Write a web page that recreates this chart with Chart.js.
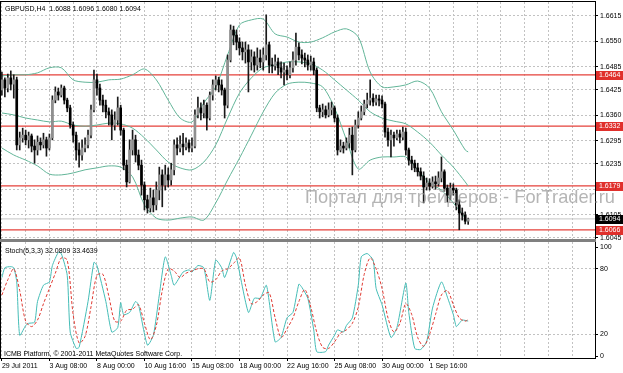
<!DOCTYPE html>
<html><head><meta charset="utf-8">
<script src="https://cdn.jsdelivr.net/npm/chart.js@4.4.1/dist/chart.umd.min.js"></script>
<style>
html,body{margin:0;padding:0;background:#fff;}
#wrap{position:relative;width:623px;height:373px;overflow:hidden;background:#fff;}
canvas{position:absolute;left:0;}
#c1{top:0;width:623px;height:241px;}
#c2{top:241px;width:623px;height:132px;}
#sep{position:absolute;left:0;top:239px;width:596px;height:3px;background:#808080;}
</style></head><body>
<div id="wrap">
<canvas id="c1" width="623" height="241"></canvas>
<canvas id="c2" width="623" height="132"></canvas>
<div id="sep"></div>
</div>
<script>
// ---------- DATA ----------
const symbolTitle = 'GBPUSD,H4  1.6088 1.6096 1.6080 1.6094';
const stochTitle = 'Stoch(5,3,3) 32.0809 33.4639';
const copyright = 'ICMB Platform, \u00a9 2001-2011 MetaQuotes Software Corp.';
const watermark = 'Портал для трейдеров - ForTrader.ru';

const xLabels = ['29 Jul 2011','3 Aug 08:00','8 Aug 00:00','10 Aug 16:00','15 Aug 08:00','18 Aug 00:00','22 Aug 16:00','25 Aug 08:00','30 Aug 00:00','1 Sep 16:00'];
const priceTicks = [1.6045,1.6105,1.6170,1.6235,1.6295,1.6360,1.6425,1.6485,1.6550,1.6615];
const stochTicks = [0,20,80,100];
const stochLevels = [20,80];
const levels = [1.6464,1.6332,1.6179,1.6066];

const opens = [
1.6425,1.6451,1.6430,1.6456,1.6440,1.6451,1.6284,1.6302,1.6309,1.6297,
1.6307,1.6281,1.6271,1.6291,1.6284,1.6297,1.6276,1.6302,1.6399,1.6420,
1.6412,1.6430,1.6399,1.6379,1.6335,1.6309,1.6271,1.6258,1.6276,1.6284,
1.6309,1.6374,1.6451,1.6430,1.6399,1.6386,1.6369,1.6361,1.6335,1.6348,
1.6379,1.6322,1.6232,1.6189,1.6271,1.6297,1.6258,1.6232,1.6181,1.6143,
1.6122,1.6148,1.6130,1.6168,1.6207,1.6181,1.6207,1.6194,1.6220,1.6284,
1.6276,1.6286,1.6279,1.6289,1.6276,1.6281,1.6361,1.6379,1.6366,1.6386,
1.6353,1.6412,1.6438,1.6451,1.6438,1.6425,1.6386,1.6502,1.6579,1.6566,
1.6548,1.6533,1.6523,1.6528,1.6497,1.6510,1.6489,1.6507,1.6497,1.6515,
1.6541,1.6489,1.6487,1.6497,1.6482,1.6471,1.6476,1.6464,1.6482,1.6502,
1.6535,1.6515,1.6507,1.6502,1.6489,1.6497,1.6476,1.6379,1.6369,1.6374,
1.6361,1.6374,1.6379,1.6353,1.6271,1.6281,1.6276,1.6289,1.6309,1.6271,
1.6335,1.6353,1.6369,1.6389,1.6399,1.6404,1.6394,1.6402,1.6399,1.6389,
1.6317,1.6297,1.6309,1.6302,1.6312,1.6304,1.6317,1.6271,1.6245,1.6237,
1.6225,1.6215,1.6204,1.6176,1.6186,1.6178,1.6189,1.6184,1.6199,1.6215,
1.6173,1.6155,1.6173,1.6168,1.6130,1.6109,1.6104,1.6088];
const highs = [
1.6471,1.6456,1.6466,1.6474,1.6464,1.6458,1.6317,1.6327,1.6322,1.6317,
1.6312,1.6297,1.6307,1.6302,1.6314,1.6304,1.6312,1.6410,1.6433,1.6430,
1.6438,1.6435,1.6404,1.6386,1.6343,1.6317,1.6289,1.6297,1.6302,1.6322,
1.6386,1.6476,1.6466,1.6440,1.6412,1.6399,1.6379,1.6374,1.6369,1.6407,
1.6386,1.6327,1.6245,1.6297,1.6322,1.6309,1.6271,1.6245,1.6189,1.6155,
1.6173,1.6168,1.6189,1.6227,1.6220,1.6232,1.6225,1.6237,1.6297,1.6302,
1.6307,1.6314,1.6302,1.6297,1.6302,1.6374,1.6407,1.6392,1.6399,1.6392,
1.6420,1.6451,1.6461,1.6458,1.6451,1.6430,1.6515,1.6592,1.6589,1.6579,
1.6559,1.6548,1.6548,1.6541,1.6528,1.6523,1.6533,1.6528,1.6533,1.6618,
1.6548,1.6507,1.6515,1.6507,1.6497,1.6494,1.6487,1.6497,1.6523,1.6571,
1.6546,1.6528,1.6520,1.6515,1.6512,1.6507,1.6482,1.6386,1.6389,1.6384,
1.6392,1.6394,1.6384,1.6361,1.6297,1.6291,1.6302,1.6327,1.6330,1.6348,
1.6369,1.6384,1.6399,1.6417,1.6451,1.6415,1.6412,1.6412,1.6410,1.6394,
1.6327,1.6322,1.6317,1.6322,1.6322,1.6330,1.6327,1.6276,1.6255,1.6245,
1.6237,1.6225,1.6215,1.6199,1.6197,1.6202,1.6204,1.6215,1.6253,1.6220,
1.6181,1.6186,1.6184,1.6173,1.6143,1.6122,1.6112,1.6096];
const lows = [
1.6412,1.6407,1.6420,1.6425,1.6404,1.6271,1.6271,1.6291,1.6284,1.6276,
1.6266,1.6237,1.6258,1.6271,1.6276,1.6255,1.6271,1.6297,1.6392,1.6399,
1.6407,1.6389,1.6369,1.6327,1.6291,1.6245,1.6227,1.6245,1.6266,1.6276,
1.6302,1.6369,1.6412,1.6386,1.6369,1.6353,1.6335,1.6297,1.6322,1.6335,
1.6309,1.6220,1.6176,1.6186,1.6258,1.6240,1.6220,1.6155,1.6117,1.6109,
1.6112,1.6112,1.6117,1.6143,1.6125,1.6168,1.6176,1.6181,1.6207,1.6258,
1.6266,1.6258,1.6271,1.6266,1.6266,1.6276,1.6353,1.6348,1.6353,1.6322,
1.6348,1.6399,1.6425,1.6420,1.6412,1.6353,1.6379,1.6497,1.6541,1.6528,
1.6515,1.6502,1.6494,1.6420,1.6476,1.6471,1.6476,1.6482,1.6476,1.6502,
1.6469,1.6469,1.6476,1.6464,1.6456,1.6438,1.6451,1.6456,1.6471,1.6489,
1.6502,1.6492,1.6484,1.6476,1.6476,1.6464,1.6369,1.6353,1.6356,1.6353,
1.6356,1.6361,1.6343,1.6258,1.6266,1.6263,1.6271,1.6276,1.6207,1.6266,
1.6327,1.6348,1.6361,1.6379,1.6386,1.6384,1.6386,1.6384,1.6379,1.6304,
1.6281,1.6253,1.6281,1.6297,1.6289,1.6297,1.6258,1.6232,1.6220,1.6215,
1.6204,1.6194,1.6135,1.6168,1.6168,1.6173,1.6170,1.6178,1.6189,1.6165,
1.6137,1.6143,1.6155,1.6117,1.6066,1.6091,1.6081,1.6080];
const closes = [
1.6451,1.6430,1.6456,1.6440,1.6451,1.6284,1.6302,1.6309,1.6297,1.6307,
1.6281,1.6271,1.6291,1.6284,1.6297,1.6276,1.6302,1.6399,1.6420,1.6412,
1.6430,1.6399,1.6379,1.6335,1.6309,1.6271,1.6258,1.6276,1.6284,1.6309,
1.6374,1.6451,1.6430,1.6399,1.6386,1.6369,1.6361,1.6335,1.6348,1.6379,
1.6322,1.6232,1.6189,1.6271,1.6297,1.6258,1.6232,1.6181,1.6143,1.6122,
1.6148,1.6130,1.6168,1.6207,1.6181,1.6207,1.6194,1.6220,1.6284,1.6276,
1.6286,1.6279,1.6289,1.6276,1.6281,1.6361,1.6379,1.6366,1.6386,1.6353,
1.6412,1.6438,1.6451,1.6438,1.6425,1.6386,1.6502,1.6579,1.6566,1.6548,
1.6533,1.6523,1.6528,1.6497,1.6510,1.6489,1.6507,1.6497,1.6515,1.6541,
1.6489,1.6487,1.6497,1.6482,1.6471,1.6476,1.6464,1.6482,1.6502,1.6535,
1.6515,1.6507,1.6502,1.6489,1.6497,1.6476,1.6379,1.6369,1.6374,1.6361,
1.6374,1.6379,1.6353,1.6271,1.6281,1.6276,1.6289,1.6309,1.6271,1.6335,
1.6353,1.6369,1.6389,1.6399,1.6404,1.6394,1.6402,1.6399,1.6389,1.6317,
1.6297,1.6309,1.6302,1.6312,1.6304,1.6317,1.6271,1.6245,1.6237,1.6225,
1.6215,1.6204,1.6176,1.6186,1.6178,1.6189,1.6184,1.6199,1.6215,1.6173,
1.6155,1.6173,1.6168,1.6130,1.6109,1.6104,1.6088,1.6094];

// Bollinger bands, read every 4th bar
const bandBars = [0,4,8,12,16,20,24,28,32,36,40,44,48,52,56,60,64,68,72,76,80,84,88,92,96,100,104,108,112,116,120,124,128,132,136,140,144,148,152,156,157];
const bandUpper = [
1.6461,1.6464,1.6464,1.6469,1.6482,1.6482,1.6451,1.6445,1.6445,1.6451,
1.6453,1.6464,1.6479,1.6451,1.6399,1.6353,1.6343,1.6392,1.6433,1.6515,
1.6592,1.6605,1.6607,1.6569,1.6561,1.6548,1.6548,1.6559,1.6574,1.6582,
1.6561,1.6471,1.6433,1.6433,1.6438,1.6448,1.6430,1.6369,1.6322,1.6271,
1.6266];
const bandMiddle = [
1.6366,1.6361,1.6353,1.6348,1.6343,1.6345,1.6335,1.6332,1.6335,1.6340,
1.6338,1.6327,1.6302,1.6271,1.6240,1.6225,1.6220,1.6240,1.6284,1.6353,
1.6417,1.6456,1.6482,1.6489,1.6497,1.6497,1.6492,1.6476,1.6451,1.6425,
1.6399,1.6369,1.6353,1.6345,1.6338,1.6317,1.6291,1.6258,1.6227,1.6189,
1.6178];
const bandLower = [
1.6276,1.6258,1.6245,1.6230,1.6209,1.6207,1.6212,1.6220,1.6225,1.6230,
1.6227,1.6202,1.6130,1.6096,1.6091,1.6096,1.6099,1.6091,1.6135,1.6194,
1.6250,1.6309,1.6369,1.6417,1.6440,1.6445,1.6443,1.6433,1.6379,1.6297,
1.6222,1.6245,1.6253,1.6253,1.6253,1.6220,1.6186,1.6168,1.6135,1.6096,
1.6086];

// Stochastic %K (main) and %D (signal)
const kBars = [0,1,3,4,5,6,8,9,11,12,14,16,17,19,20,22,23,25,26,29,31,32,35,37,39,40,41,43,45,46,49,51,53,55,57,58,61,63,64,66,68,70,72,74,75,78,79,83,85,87,89,90,92,94,96,98,100,101,103,105,106,109,110,112,113,115,116,118,120,121,123,125,126,128,131,133,136,137,139,141,143,145,148,150,152,153,154,155,157];
const kValues = [72,81,82,81,68,19,28,30,31,50,65,68,83,95,94,74,22,7,8,50,86,83,50,22,26,49,38,40,50,47,10,19,56,91,74,65,77,79,77,83,81,51,88,81,72,95,90,40,53,53,65,50,13,17,35,40,66,63,53,24,4,4,10,19,24,22,28,35,65,91,94,88,62,47,17,26,67,40,7,6,13,44,68,54,38,27,30,33,32.0809];
const dBars = [0,2,4,6,8,10,12,14,16,18,20,22,24,26,28,30,32,34,36,38,40,42,44,46,48,50,52,54,56,58,60,62,64,66,68,70,72,74,76,78,80,82,84,86,88,90,92,94,96,98,100,102,104,106,108,110,112,114,116,118,120,122,124,126,128,130,132,134,136,138,140,142,144,146,148,150,152,154,156,157];
const dValues = [56,70,80,60,32,27,33,48,62,76,90,88,38,12,18,45,74,75,55,32,32,42,43,47,30,15,28,60,80,78,72,76,78,80,80,68,70,78,80,85,90,65,48,50,56,58,35,17,25,35,50,61,45,22,8,7,13,21,24,30,45,75,90,80,62,35,22,30,48,38,17,9,20,38,56,60,47,35,32,33.4639];

// ---------- LAYOUT / STYLE ----------
const FONT = '"Liberation Sans", Arial, Helvetica, sans-serif';
Chart.defaults.font.family = FONT;
Chart.defaults.font.size = 7;
Chart.defaults.color = '#000';
const X_MIN = -0.3, X_MAX = 199.7;
const gridBars = []; for (let v = 0; v <= 192; v += 8) gridBars.push(v);
const GRID = '#c2c2c2';
const bars = closes.map((_, i) => i);
const lastClose = closes[closes.length - 1];

function stripPad(s){ s.paddingLeft = 0; s.paddingRight = 0; s.paddingTop = 0; s.paddingBottom = 0; }

const framePlugin = { id:'frame', afterDatasetsDraw(chart){
  const a = chart.chartArea, c = chart.ctx; c.save();
  c.strokeStyle = '#000'; c.lineWidth = 1;
  c.strokeRect(a.left - 0.5, a.top - 0.5, a.right - a.left + 1, a.bottom - a.top + 1);
  c.restore(); } };

const mainText = { id:'mainText', afterDraw(chart){
  const c = chart.ctx, ys = chart.scales.y, a = chart.chartArea; c.save();
  c.font = '7px ' + FONT; c.fillStyle = '#000'; c.textBaseline = 'alphabetic';
  c.fillText(symbolTitle, 5, 11);
  const tag = (v, col) => {
    const py = Math.round(ys.getPixelForValue(v));
    c.fillStyle = col; c.fillRect(a.right + 1, py - 4, 27, 9);
    c.fillStyle = '#fff'; c.textBaseline = 'middle'; c.fillText(v.toFixed(4), a.right + 4, py + 0.5);
  };
  levels.forEach(v => tag(v, '#e0302c'));
  tag(lastClose, '#000');
  c.font = '19px ' + FONT; c.fillStyle = 'rgba(150,150,150,0.7)'; c.textBaseline = 'alphabetic';
  c.fillText(watermark, 305, 203, 310);
  c.restore(); } };

const lineDs = (xs, ys, color, extra) => Object.assign({
  type:'line', data: xs.map((x, k) => ({x, y: ys[k]})), borderColor: color, borderWidth: 1,
  pointRadius: 0, tension: 0.3, fill: false }, extra || {});

new Chart(document.getElementById('c1'), {
  type: 'bar',
  data: { datasets: [
    { type:'bar', data: bars.map(i => ({x:i, y:[opens[i], closes[i]]})),
      backgroundColor: bars.map(i => closes[i] >= opens[i] ? '#8f8f8f' : '#000000'),
      borderWidth:0, barThickness:2, minBarLength:1, grouped:false, order:0 },
    { type:'bar', data: bars.map(i => ({x:i, y:[lows[i], highs[i]]})),
      backgroundColor:'#1a1a1a', barThickness:1, grouped:false, order:1 },
    lineDs(bandBars, bandUpper, '#62b598', {order:2}),
    lineDs(bandBars, bandMiddle, '#62b598', {order:2}),
    lineDs(bandBars, bandLower, '#62b598', {order:2}),
    ...levels.map(v => lineDs([X_MIN, X_MAX], [v, v], '#e5403a', {borderWidth:1.3, tension:0, order:3})),
    lineDs([X_MIN, X_MAX], [lastClose, lastClose], '#c4c4c4', {tension:0, order:4})
  ]},
  options: {
    responsive:false, devicePixelRatio:1, animation:false, events:[],
    layout:{ padding:{ left:1, top:2, right:0, bottom:2 } },
    plugins:{ legend:{display:false}, tooltip:{enabled:false} },
    scales:{
      x:{ type:'linear', min:X_MIN, max:X_MAX, offset:false,
        afterBuildTicks: s => { s.ticks = gridBars.map(v => ({value:v})); },
        afterFit: s => { s.height = 0; stripPad(s); },
        ticks:{ display:false }, grid:{ color:GRID, drawTicks:false, offset:false },
        border:{ display:false, dash:[2,2] } },
      y:{ position:'right', min:1.60424, max:1.66509,
        afterBuildTicks: s => { s.ticks = priceTicks.map(v => ({value:v})); },
        afterFit: s => { s.width = 28; stripPad(s); },
        ticks:{ padding:2, callback: v => Number(v).toFixed(4), font:{size:7} },
        grid:{ color:GRID, drawTicks:true, tickLength:3, tickColor:'#000', tickBorderDash:[1,0] },
        border:{ display:true, color:'#000', dash:[2,2] } }
    }
  },
  plugins:[framePlugin, mainText]
});

const stochText = { id:'stochText', afterDraw(chart){
  const c = chart.ctx; c.save(); c.font = '7px ' + FONT; c.fillStyle = '#000';
  c.textBaseline = 'alphabetic';
  c.fillText(stochTitle, 5, 12);
  c.fillText(copyright, 4, 115);
  c.restore(); } };

new Chart(document.getElementById('c2'), {
  type: 'line',
  data: { datasets: [
    lineDs(kBars, kValues, '#45bdb7', {tension:0.2, order:1}),
    lineDs(dBars, dValues, '#e03a32', {tension:0.3, borderDash:[3,2], order:0})
  ]},
  options: {
    responsive:false, devicePixelRatio:1, animation:false, events:[],
    layout:{ padding:{ left:1, top:1, right:0, bottom:0 } },
    plugins:{ legend:{display:false}, tooltip:{enabled:false} },
    scales:{
      x:{ type:'linear', min:X_MIN, max:X_MAX, offset:false,
        afterBuildTicks: s => { s.ticks = gridBars.map(v => ({value:v})); },
        afterFit: s => { s.height = 15; stripPad(s); },
        ticks:{ autoSkip:false, maxRotation:0, minRotation:0, align:'start', padding:1, font:{size:7},
          callback: v => (v % 16 === 0 && xLabels[v / 16]) ? xLabels[v / 16] : '' },
        grid:{ color:GRID, drawTicks:true, tickLength:3, tickBorderDash:[1,0],
          tickColor: ctx => (ctx.tick && ctx.tick.value % 16 === 0 && xLabels[ctx.tick.value / 16]) ? '#000' : 'rgba(0,0,0,0)' },
        border:{ display:true, color:'#000', dash:[2,2] } },
      y:{ position:'right', min:-1.8, max:104.6,
        afterBuildTicks: s => { s.ticks = stochTicks.map(v => ({value:v})); },
        afterFit: s => { s.width = 28; stripPad(s); },
        ticks:{ padding:2, font:{size:7} },
        grid:{ drawTicks:true, tickLength:3, tickColor:'#000', tickBorderDash:[1,0],
          color: ctx => (ctx.tick && stochLevels.includes(ctx.tick.value)) ? GRID : 'rgba(0,0,0,0)' },
        border:{ display:true, color:'#000', dash:[2,2] } }
    }
  },
  plugins:[framePlugin, stochText]
});
</script>
</body></html>
